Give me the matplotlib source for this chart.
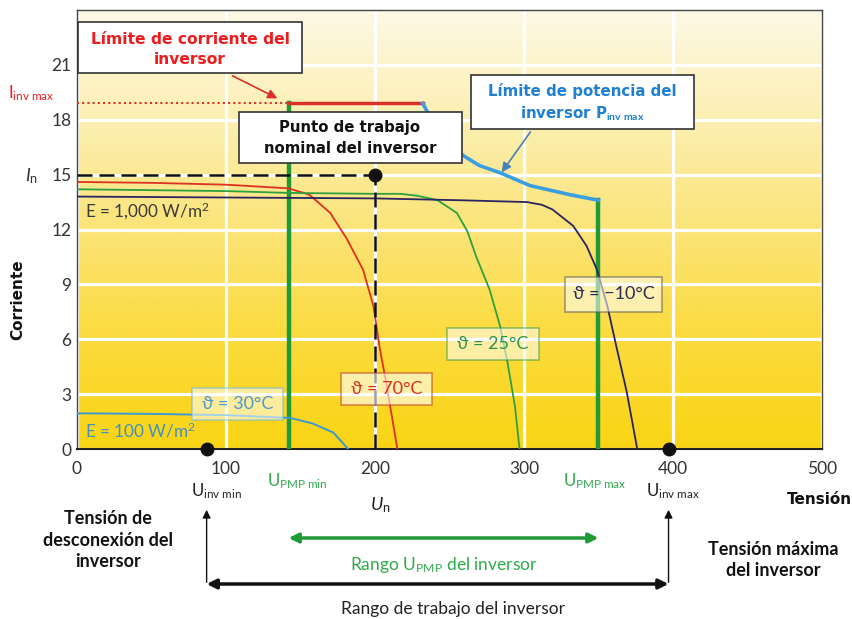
import matplotlib
matplotlib.use("Agg")
import numpy as np
import matplotlib.pyplot as plt
from matplotlib.patches import Rectangle
from matplotlib.colors import LinearSegmentedColormap

# Curvas I-V del generador (tension en V, corriente en A)
v_70 = [0, 50, 100, 142, 156, 170, 181, 192, 199, 203, 208, 215]
i_70 = [14.6, 14.55, 14.45, 14.25, 13.9, 12.9, 11.5, 9.8, 7.8, 5.6, 3.4, 0.0]

v_25 = [0, 100, 142, 200, 217, 228, 242, 255, 262, 268, 277, 284, 289, 294, 297]
i_25 = [14.2, 14.1, 14.0, 13.95, 13.95, 13.85, 13.6, 12.9, 11.9, 10.5, 8.7, 6.7, 4.7, 2.3, 0.0]

v_m10 = [0, 100, 200, 257, 302, 312, 319, 333, 342, 349, 356, 362, 369, 376]
i_m10 = [13.8, 13.75, 13.7, 13.6, 13.5, 13.35, 13.1, 12.2, 11.1, 9.8, 7.8, 5.6, 3.1, 0.0]

v_30 = [0, 50, 100, 143, 158, 172, 182]
i_30 = [1.95, 1.92, 1.85, 1.7, 1.4, 0.9, 0.0]

# Limites del inversor
v_pmax = [232, 236, 242, 252, 260, 270, 284, 304, 331, 350]
i_pmax = [18.9, 18.3, 17.4, 16.5, 16.0, 15.5, 15.1, 14.4, 13.9, 13.6]
i_inv_max = 18.9
u_pmp_min = 142
u_pmp_max = 350
u_inv_min = 87
u_inv_max = 397
u_n = 200
i_n = 15.0

x_ticks = [0, 100, 200, 300, 400, 500]
y_ticks = [0, 3, 6, 9, 12, 15, 18, 21]

W, H = 853, 619
plt.rcParams['font.family'] = ['Lato', 'DejaVu Sans']
plt.rcParams['mathtext.fontset'] = 'custom'
plt.rcParams['mathtext.rm'] = 'Lato'
plt.rcParams['mathtext.it'] = 'Lato:italic'
plt.rcParams['mathtext.bf'] = 'Lato:bold'
BOLD = ['DejaVu Sans']


def fxy(px, py):
    # pixel del lienzo -> fraccion de figura
    return px / W, 1 - py / H


fig = plt.figure(figsize=(W / 100, H / 100), dpi=100)
ax = fig.add_axes([77 / W, 1 - 449 / H, 745 / W, 439 / H])
ax.set_xlim(0, 500)
ax.set_ylim(0, 24)

# fondo degradado amarillo
cmap = LinearSegmentedColormap.from_list(
    'amarillo', ['#fad414', '#fbdb3c', '#fbe478', '#fcefb2', '#fdf9e6'])
grad = np.linspace(0, 1, 256).reshape(-1, 1)
ax.imshow(grad, extent=[0, 500, 0, 24], origin='lower', aspect='auto',
          cmap=cmap, zorder=0)

ax.set_xticks(x_ticks)
ax.set_yticks(y_ticks)
ax.grid(True, color='white', lw=2.3)
ax.set_axisbelow(True)
ax.tick_params(length=0, labelsize=12.5, labelcolor='#333333', pad=4)
ax.tick_params(axis='x', pad=9)
for s in ax.spines.values():
    s.set_color('#444444')
    s.set_linewidth(1.0)
ax.spines['bottom'].set_color('#222222')
ax.spines['bottom'].set_linewidth(1.5)

# curvas
ax.plot(v_70, i_70, color='#e0301f', lw=1.3, zorder=4)
ax.plot(v_25, i_25, color='#2ea040', lw=1.3, zorder=4)
ax.plot(v_m10, i_m10, color='#2a2460', lw=1.3, zorder=4)
ax.plot(v_30, i_30, color='#3c98d0', lw=1.4, zorder=4)

# limites del inversor
ax.plot([0, u_pmp_min], [i_inv_max, i_inv_max], color='#e0302a', lw=1.5,
        ls=(0, (1, 1.5)), zorder=3)
ax.plot([u_pmp_min, v_pmax[0]], [i_inv_max, i_inv_max], color='#d8322a', lw=2.5,
        zorder=4)
ax.plot(v_pmax, i_pmax, color='#3a9ee0', lw=2.6, zorder=4)
ax.plot([u_pmp_min, u_pmp_min], [0, i_inv_max], color='#1f9a36', lw=3.2, zorder=3)
ax.plot([u_pmp_max, u_pmp_max], [0, i_pmax[-1]], color='#1f9a36', lw=3.2, zorder=3)

# punto nominal
ax.plot([0, u_n], [i_n, i_n], color='#111111', lw=1.8, dashes=[6, 2.8], zorder=5)
ax.plot([u_n, u_n], [0, i_n], color='#111111', lw=1.8, dashes=[6, 2.8], zorder=5)
ax.plot([u_n], [i_n], 'o', color='#111111', ms=9, zorder=6)
ax.plot([u_inv_min, u_inv_max], [0, 0], 'o', color='#111111', ms=9, lw=0,
        zorder=6, clip_on=False)


def caja(x0, x1, y0, y1, edge, face='white', alpha=1.0, lw=1.2):
    ax.add_patch(Rectangle((x0, y0), x1 - x0, y1 - y0, facecolor=face,
                           edgecolor=edge, lw=lw, alpha=alpha, zorder=7,
                           clip_on=False))


# etiquetas de temperatura
caja(77.2, 138.3, 1.59, 3.34, '#70b4dc', alpha=0.55)
ax.text(107.7, 2.46, 'ϑ = 30°C', color='#4a9ad4', fontsize=13,
        ha='center', va='center', zorder=8)
caja(177.2, 238.3, 2.41, 4.16, '#c0452b', alpha=0.6)
ax.text(207.7, 3.28, 'ϑ = 70°C', color='#d83228', fontsize=13,
        ha='center', va='center', zorder=8)
caja(248.3, 310.1, 4.87, 6.62, '#3a9a4a', alpha=0.55)
ax.text(279.2, 5.75, 'ϑ = 25°C', color='#2e9446', fontsize=13,
        ha='center', va='center', zorder=8)
caja(327.5, 392.6, 7.5, 9.41, '#555555', alpha=0.55)
ax.text(360.0, 8.46, 'ϑ = −10°C', color='#2a2a5a', fontsize=13,
        ha='center', va='center', zorder=8)

ax.text(5.4, 12.97, 'E = 1,000 W/m$^2$', color='#3a3a3a', fontsize=12.3,
        ha='left', va='center', zorder=8)
ax.text(5.4, 0.98, 'E = 100 W/m$^2$', color='#4090c0', fontsize=12.3,
        ha='left', va='center', zorder=8)

# cuadros explicativos
caja(0.7, 151.0, 20.53, 23.37, '#333333')
ax.text(76.0, 21.85, 'Límite de corriente del\ninversor', color='#ee1c1c',
        fontsize=11.2, weight='bold', family=BOLD, ha='center', va='center',
        linespacing=1.45, zorder=8)
ax.annotate('', xy=(136.2, 19.1), xytext=(102.7, 20.47),
            arrowprops=dict(arrowstyle='-|>', color='#d8322a', lw=1.2,
                            mutation_scale=14), zorder=8)

caja(108.7, 258.4, 15.65, 18.45, '#333333')
ax.text(183.2, 17.02, 'Punto de trabajo\nnominal del inversor', color='#111111',
        fontsize=10.7, weight='bold', family=BOLD, ha='center', va='center',
        linespacing=1.5, zorder=8)

caja(264.4, 414.1, 17.52, 20.47, '#333333')
ax.text(338.9, 18.9, 'Límite de potencia del\ninversor P$_{\\mathbf{inv\\ max}}$',
        color='#1f7fd0', fontsize=10.8, weight='bold', family=BOLD, ha='center',
        va='center', linespacing=1.4, zorder=8)
ax.annotate('', xy=(283.9, 15.0), xytext=(305.4, 17.46),
            arrowprops=dict(arrowstyle='-|>', color='#4a7fb8', lw=1.2,
                            mutation_scale=14), zorder=8)

# textos junto a los ejes
fig.text(*fxy(8, 93), 'I$_{\\mathregular{inv\\ max}}$', color='#ee1c1c',
         fontsize=12, ha='left', va='center')
fig.text(*fxy(32, 176), '$\\mathit{I}_{\\mathregular{n}}$', color='#333333',
         fontsize=13, ha='center', va='center')
fig.text(*fxy(18, 300), 'Corriente', fontsize=11, weight='bold', family=BOLD,
         rotation=90, ha='center', va='center', color='#111111')
fig.text(*fxy(852, 499), 'Tensión', fontsize=11, weight='bold', family=BOLD,
         ha='right', va='center', color='#111111')

fig.text(*fxy(216, 491), 'U$_{\\mathregular{inv\\ min}}$', fontsize=12,
         ha='center', va='center', color='#222222')
fig.text(*fxy(673, 491), 'U$_{\\mathregular{inv\\ max}}$', fontsize=12,
         ha='center', va='center', color='#222222')
fig.text(*fxy(297, 481), 'U$_{\\mathregular{PMP\\ min}}$', fontsize=12,
         ha='center', va='center', color='#2eaa4a')
fig.text(*fxy(595, 481), 'U$_{\\mathregular{PMP\\ max}}$', fontsize=12,
         ha='center', va='center', color='#2eaa4a')
fig.text(*fxy(380, 505), '$\\mathit{U}_{\\mathregular{n}}$', fontsize=13,
         ha='center', va='center', color='#222222')

fig.text(*fxy(108, 540), 'Tensión de\ndesconexión del\ninversor', fontsize=13,
         weight='bold', ha='center', va='center',
         linespacing=1.3, color='#111111')
fig.text(*fxy(773, 560), 'Tensión máxima\ndel inversor', fontsize=13,
         weight='bold', ha='center', va='center',
         linespacing=1.3, color='#111111')
fig.text(*fxy(444, 565), 'Rango U$_{\\mathregular{PMP}}$ del inversor', fontsize=12.5,
         ha='center', va='center', color='#2eaa4a')
fig.text(*fxy(453, 609), 'Rango de trabajo del inversor', fontsize=12.5,
         ha='center', va='center', color='#222222')


# flechas bajo el eje (x en datos, y en fraccion de ejes)
def yfrac(py):
    return (449 - py) / 439


for u in (u_inv_min, u_inv_max):
    ax.annotate('', xy=(u, yfrac(507)), xytext=(u, yfrac(585)),
                xycoords=('data', 'axes fraction'),
                arrowprops=dict(arrowstyle='-|>', color='#111111', lw=1.0,
                                mutation_scale=12))
ax.annotate('', xy=(u_inv_min, yfrac(584)), xytext=(u_inv_max, yfrac(584)),
            xycoords=('data', 'axes fraction'),
            arrowprops=dict(arrowstyle='<|-|>', color='#111111', lw=2.5,
                            mutation_scale=14, shrinkA=0, shrinkB=0))
ax.annotate('', xy=(u_pmp_min, yfrac(538)), xytext=(u_pmp_max, yfrac(538)),
            xycoords=('data', 'axes fraction'),
            arrowprops=dict(arrowstyle='<|-|>', color='#1f9a36', lw=2.5,
                            mutation_scale=14, shrinkA=0, shrinkB=0))

fig.savefig('out.png', dpi=100)
